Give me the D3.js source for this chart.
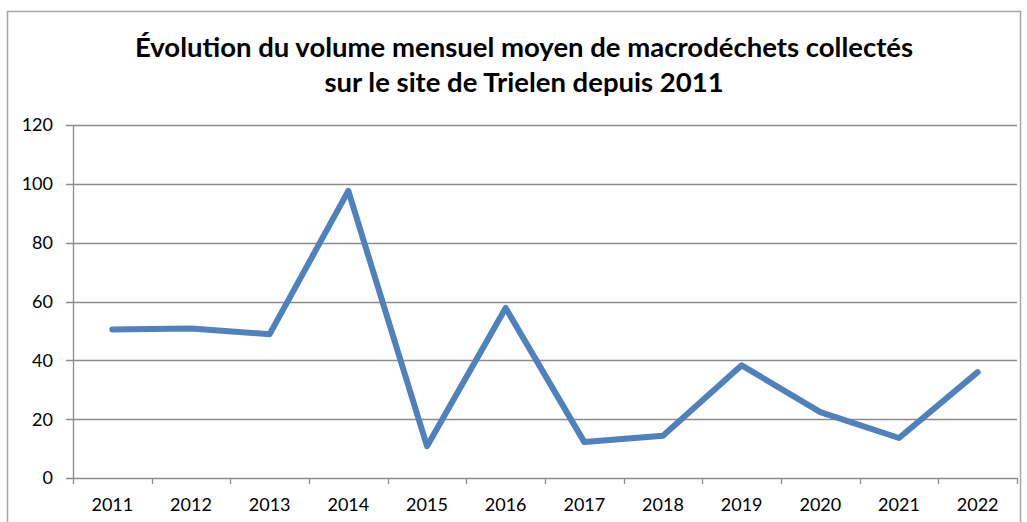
<!DOCTYPE html>
<html>
<head>
<meta charset="utf-8">
<script src="https://cdn.jsdelivr.net/npm/d3@7"></script>
<style>
  body { margin: 0; background: #fff; }
  svg { display: block; }
</style>
</head>
<body>
<svg id="chart" width="1027" height="522"></svg>
<script>
// data
var years = ["2011", "2012", "2013", "2014", "2015", "2016", "2017", "2018", "2019", "2020", "2021", "2022"];
var volumes = [50.5, 50.8, 48.9, 97.6, 10.8, 57.8, 12.2, 14.4, 38.3, 22.4, 13.6, 36];
var yTicks = [0, 20, 40, 60, 80, 100, 120];
var titleLines = ["Évolution du volume mensuel moyen de macrodéchets collectés", "sur le site de Trielen depuis 2011"];

var font = "Lato, Carlito, Calibri, sans-serif";
var svg = d3.select("#chart");

// chart frame
svg.append("rect")
  .attr("x", 7.5).attr("y", 11.5)
  .attr("width", 1013).attr("height", 530)
  .style("fill", "#fff")
  .style("stroke", "#a6a6a6")
  .style("stroke-width", 1.5);

var x = d3.scaleBand().domain(years).range([73, 1017]).padding(0);
var y = d3.scaleLinear().domain([0, 120]).range([478, 125]);

//Gridlines
svg.append("g")
  .selectAll("line").data(yTicks)
  .enter().append("line")
    .attr("x1", 66).attr("x2", 1017)
    .attr("y1", function(d){ return Math.round(y(d)) + 0.5; })
    .attr("y2", function(d){ return Math.round(y(d)) + 0.5; })
    .style("stroke", "#8c8c8c")
    .style("stroke-width", 1.3);

//Y labels
svg.append("g")
  .selectAll("text").data(yTicks)
  .enter().append("text")
    .attr("x", 53)
    .attr("y", function(d){ return y(d); })
    .attr("dy", "0.36em")
    .style("text-anchor", "end")
    .style("font-family", font)
    .style("font-size", "18px")
    .style("fill", "#000")
    .text(function(d){ return d; });

//Y axis line
svg.append("line")
  .attr("x1", 73.5).attr("x2", 73.5)
  .attr("y1", y(120)).attr("y2", y(0))
  .style("stroke", "#8c8c8c")
  .style("stroke-width", 1.3);

//X ticks between categories
var bounds = years.map(function(d){ return x(d); }).concat([x.range()[1]]);
svg.append("g")
  .selectAll("line").data(bounds)
  .enter().append("line")
    .attr("x1", function(d){ return Math.round(d) + 0.5; })
    .attr("x2", function(d){ return Math.round(d) + 0.5; })
    .attr("y1", y(0)).attr("y2", y(0) + 6)
    .style("stroke", "#8c8c8c")
    .style("stroke-width", 1.3);

//X labels
svg.append("g")
  .selectAll("text").data(years)
  .enter().append("text")
    .attr("x", function(d){ return x(d) + x.bandwidth() / 2; })
    .attr("y", 511)
    .style("text-anchor", "middle")
    .style("font-family", font)
    .style("font-size", "18px")
    .style("fill", "#000")
    .text(function(d){ return d; });

//The line
var line = d3.line()
  .x(function(d, i){ return x(years[i]) + x.bandwidth() / 2; })
  .y(function(d){ return y(d); });

svg.append("path")
  .datum(volumes)
  .attr("d", line)
  .style("fill", "none")
  .style("stroke", "#4f81bd")
  .style("stroke-width", 6)
  .style("stroke-linejoin", "round")
  .style("stroke-linecap", "round");

//Title
svg.append("g")
  .selectAll("text").data(titleLines)
  .enter().append("text")
    .attr("x", 524)
    .attr("y", function(d, i){ return 57 + i * 35; })
    .style("text-anchor", "middle")
    .style("font-family", font)
    .style("font-size", "27.5px")
    .style("font-weight", "bold")
    .style("fill", "#000")
    .text(function(d){ return d; });
</script>
</body>
</html>
